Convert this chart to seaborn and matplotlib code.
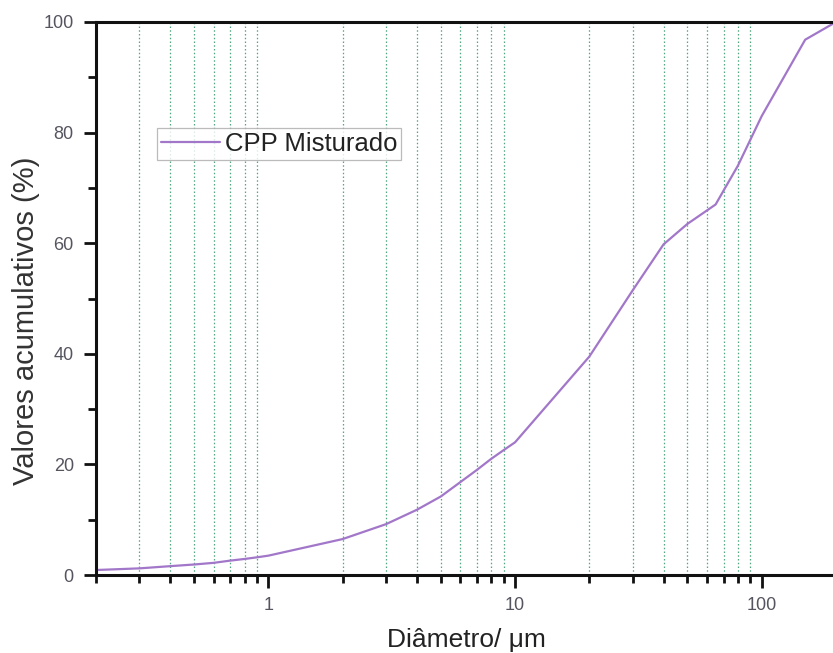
import matplotlib
matplotlib.use("Agg")
import matplotlib.pyplot as plt
import matplotlib.ticker as mticker
import numpy as np
import pandas as pd
import seaborn as sns

# Cumulative particle size distribution
diametro = [0.2, 0.3, 0.4, 0.5, 0.6, 0.7, 0.8, 0.9, 1,
            2, 3, 4, 5, 6, 7, 8, 9, 10,
            20, 30, 40, 50, 65, 80, 100, 150, 200]
acumulado = [0.9, 1.2, 1.6, 1.9, 2.2, 2.6, 2.9, 3.2, 3.5,
             6.5, 9.2, 11.8, 14.2, 16.8, 19.0, 21.0, 22.6, 24.0,
             39.5, 51.5, 59.8, 63.5, 67.0, 74.0, 83.0, 96.8, 100.0]
serie = "CPP Misturado"
x_ticks = [1, 10, 100]
x_tick_labels = ["1", "10", "100"]
y_ticks = [0, 20, 40, 60, 80, 100]

df = pd.DataFrame({"diametro": diametro, "acumulado": acumulado})

sns.set_style("ticks")
plt.rcParams["font.family"] = ["Liberation Sans", "DejaVu Sans"]

fig = plt.figure(figsize=(8.33, 6.53), dpi=100)
ax = fig.add_axes([96 / 833, 78 / 653, 740 / 833, 553 / 653])

sns.lineplot(data=df, x="diametro", y="acumulado", ax=ax, color="#a277c9",
             linewidth=1.6, label=serie)

ax.set_xscale("log")
ax.set_xlim(0.2, 200)
ax.set_ylim(0, 100)

ax.xaxis.set_major_locator(mticker.FixedLocator(x_ticks))
ax.xaxis.set_major_formatter(mticker.FixedFormatter(x_tick_labels))
ax.xaxis.set_minor_locator(mticker.LogLocator(base=10, subs=np.arange(2, 10), numticks=20))
ax.xaxis.set_minor_formatter(mticker.NullFormatter())
ax.yaxis.set_major_locator(mticker.FixedLocator(y_ticks))
ax.yaxis.set_minor_locator(mticker.MultipleLocator(10))

ax.grid(False)
ax.grid(which="minor", axis="x", color="#3f9c72", linestyle=(0, (1.2, 1.8)),
        linewidth=0.9, alpha=0.9)

for side in ["left", "bottom", "top"]:
    ax.spines[side].set_linewidth(2.2)
    ax.spines[side].set_color("#111111")
ax.spines["right"].set_visible(False)

ax.tick_params(which="major", direction="out", length=9, width=2.0,
               color="#111111", labelsize=13, labelcolor="#555560", pad=7)
ax.tick_params(which="minor", direction="out", length=5.5, width=2.0,
               color="#111111")
ax.tick_params(top=False, right=False, which="both")

ax.set_xlabel("Diâmetro/ μm", fontsize=19, color="#222222")
ax.xaxis.set_label_coords(0.5, -0.118)
ax.xaxis.label.set_va("center")
ax.set_ylabel("Valores acumulativos (%)", fontsize=21, color="#333333")
ax.yaxis.set_label_coords(-0.095, 0.46)
ax.yaxis.label.set_va("center")

leg = ax.legend(loc="upper left", bbox_to_anchor=(0.082, 0.808), borderaxespad=0,
                frameon=True, fancybox=False, edgecolor="#aaaaaa", fontsize=18.5,
                handlelength=2.3, borderpad=0.15, handletextpad=0.2)
leg.get_frame().set_linewidth(0.9)
for t in leg.get_texts():
    t.set_color("#222222")

fig.savefig("out.png", dpi=100)
